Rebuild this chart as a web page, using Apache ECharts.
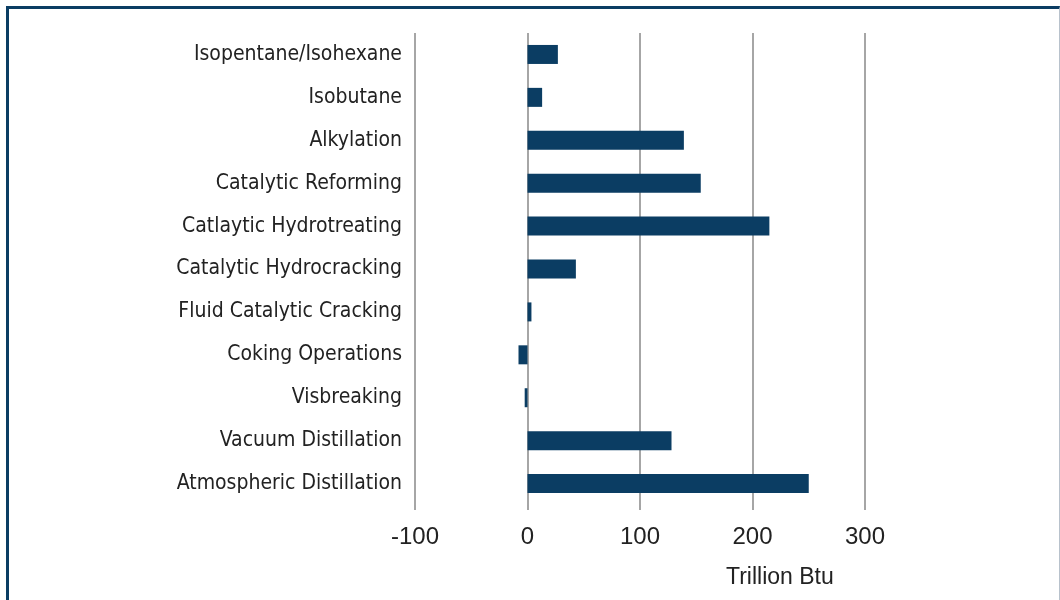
<!DOCTYPE html>
<html>
<head>
<meta charset="utf-8">
<script src="https://cdn.jsdelivr.net/npm/echarts@6/dist/echarts.min.js"></script>
<style>
  html, body { margin: 0; padding: 0; background: #fff; }
  #frame {
    position: absolute; left: 6px; top: 6px; width: 1050px; height: 600px;
    border-top: 3px solid #0b3d63; border-left: 3px solid #0b3d63;
    border-right: 1px solid #b8c2cc;
  }
  #chart { position: absolute; left: 0; top: 0; width: 1060px; height: 600px; }
</style>
</head>
<body>
<div id="frame"></div>
<div id="chart"></div>
<script>
// processes, top to bottom
var categories = [
  "Isopentane/Isohexane",
  "Isobutane",
  "Alkylation",
  "Catalytic Reforming",
  "Catlaytic Hydrotreating",
  "Catalytic Hydrocracking",
  "Fluid Catalytic Cracking",
  "Coking Operations",
  "Visbreaking",
  "Vacuum Distillation",
  "Atmospheric Distillation"
];
// trillion Btu
var values = [27, 13, 139, 154, 215, 43, 3.5, -8, -2.5, 128, 250];

var chart = echarts.init(document.getElementById("chart"));
chart.setOption({
  animation: false,
  title: {
    text: "Trillion Btu",
    left: 721,
    top: 561,
    textStyle: { fontFamily: "Liberation Sans, Arial", fontSize: 23, fontWeight: "normal", color: "#222" }
  },
  grid: { left: 415, right: 195, top: 33, bottom: 95 },
  xAxis: {
    type: "value",
    min: -100,
    max: 300,
    interval: 100,
    axisLine: { show: false },
    axisTick: { show: true, length: 5, lineStyle: { color: "#888", width: 1.5 } },
    splitLine: { lineStyle: { color: "#888", width: 1.5 } },
    axisLabel: { margin: 20, fontFamily: "Liberation Sans, Arial", fontSize: 24, color: "#222" }
  },
  yAxis: {
    type: "category",
    inverse: true,
    data: categories,
    axisLine: { show: false },
    axisTick: { show: false },
    axisLabel: { margin: 13, fontFamily: "DejaVu Sans Condensed, sans-serif", fontSize: 21, color: "#222" }
  },
  series: [{
    type: "bar",
    data: values,
    barWidth: 19,
    itemStyle: { color: "#0b3d63" }
  }]
});
</script>
</body>
</html>
